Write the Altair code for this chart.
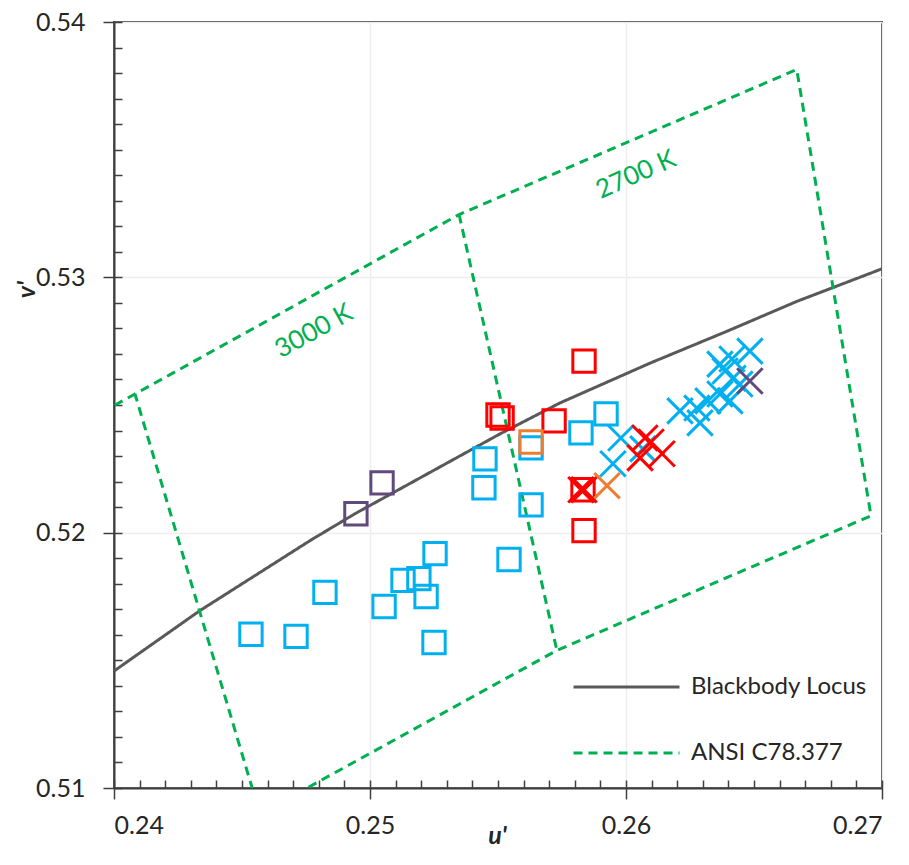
import altair as alt
import pandas as pd

# ---------------- axis ticks ----------------
x_major = [0.24, 0.25, 0.26, 0.27]
y_major = [0.51, 0.52, 0.53, 0.54]
x_minor = [round(0.24 + i * 0.001, 3) for i in range(31)]
y_minor = [round(0.51 + i * 0.001, 3) for i in range(31)]

# ---------------- blackbody locus ----------------
locus_u = [0.2400, 0.24336, 0.24766, 0.24941, 0.25508, 0.25742, 0.26094, 0.26395, 0.26668, 0.27004]
locus_v = [0.51458, 0.51695, 0.51969, 0.52074, 0.52387, 0.52508, 0.52664, 0.52789, 0.52906, 0.53035]

# ---------------- ANSI C78.377 quadrangles ----------------
ansi_outline_u = [0.2390, 0.24082, 0.25348, 0.26667, 0.26957, 0.25730, 0.24570, 0.24082]
ansi_outline_v = [0.52442, 0.52543, 0.53246, 0.53814, 0.52066, 0.51539, 0.50898, 0.52543]
ansi_divider_u = [0.25348, 0.25730]
ansi_divider_v = [0.53246, 0.51539]

label_text = ["3000 K", "2700 K"]
label_u = [0.24781, 0.26039]
label_v = [0.52789, 0.53402]

# ---------------- measured points ----------------
blue_sq_u = [0.24535, 0.24711, 0.24824, 0.25055, 0.25129, 0.25191, 0.25219, 0.25254,
             0.25250, 0.25543, 0.25449, 0.25445, 0.25629, 0.25629, 0.25824, 0.25922]
blue_sq_v = [0.51602, 0.51594, 0.51766, 0.51711, 0.51813, 0.51820, 0.51750, 0.51918,
             0.51570, 0.51895, 0.52289, 0.52176, 0.52332, 0.52109, 0.52391, 0.52465]

red_sq_u = [0.25836, 0.25500, 0.25516, 0.25719, 0.25832, 0.25836]
red_sq_v = [0.52672, 0.52461, 0.52449, 0.52438, 0.52168, 0.52008]

orange_sq_u = [0.25629]
orange_sq_v = [0.52355]

purple_sq_u = [0.25047, 0.24945]
purple_sq_v = [0.52195, 0.52074]

blue_x_u = [0.25980, 0.25949, 0.26066, 0.26211, 0.26277, 0.26289, 0.26320, 0.26367,
            0.26406, 0.26367, 0.26414, 0.26484, 0.26418, 0.26387, 0.26445]
blue_x_v = [0.52371, 0.52270, 0.52328, 0.52477, 0.52488, 0.52430, 0.52516, 0.52543,
            0.52516, 0.52660, 0.52680, 0.52711, 0.52605, 0.52633, 0.52582]

red_x_u = [0.25824, 0.25836, 0.26074, 0.26098, 0.26055, 0.26141]
red_x_v = [0.52168, 0.52168, 0.52371, 0.52355, 0.52293, 0.52309]

orange_x_u = [0.25926]
orange_x_v = [0.52184]

purple_x_u = [0.26484]
purple_x_v = [0.52594]

# ---------------- styling ----------------
FONT = "Lato"
TXT = "#262626"
GREEN = "#00B050"
GRAY = "#595959"
BLUE = "#00B0F0"
RED = "#FF0000"
ORANGE = "#ED7D31"
PURPLE = "#604A7B"
XPATH = "M-1,-1L1,1M-1,1L1,-1"

xscale = alt.Scale(domain=[0.24, 0.27], zero=False, nice=False)
yscale = alt.Scale(domain=[0.51, 0.54], zero=False, nice=False)

series_domain = ["Blackbody Locus", "ANSI C78.377"]
legend = alt.Legend(
    title=None, orient="none", legendX=458, legendY=645, direction="vertical",
    symbolType="stroke", symbolSize=11236, symbolStrokeWidth=3,
    labelFont=FONT, labelFontSize=24, labelColor=TXT, labelOffset=10,
    clipHeight=40, rowPadding=26, padding=0, labelLimit=400,
)
color_enc = alt.Color("series:N", scale=alt.Scale(domain=series_domain, range=[GRAY, GREEN]), legend=legend)
dash_enc = alt.StrokeDash("series:N", scale=alt.Scale(domain=series_domain, range=[[1, 0], [9, 6]]), legend=legend)

main_x_axis = alt.Axis(
    orient="bottom", values=x_major, format=".2f", tickSize=11, tickWidth=1.5, tickColor="#3F3F3F",
    domainColor="#3F3F3F", domainWidth=2, labelFont=FONT, labelFontSize=25, labelColor=TXT,
    labelPadding=14, grid=True, gridColor="#EDEDED", gridWidth=1.5,
    title="u'", titleFont=FONT, titleFontSize=25, titleFontWeight="bold", titleFontStyle="italic",
    titleColor=TXT, titleX=383, titleY=47, titleBaseline="middle", titleAlign="center",
)
main_y_axis = alt.Axis(
    orient="left", values=y_major, format=".2f", tickSize=11, tickWidth=1.5, tickColor="#3F3F3F",
    domainColor="#3F3F3F", domainWidth=2, labelFont=FONT, labelFontSize=25, labelColor=TXT,
    labelPadding=18, grid=True, gridColor="#EDEDED", gridWidth=1.5,
    title="v'", titleFont=FONT, titleFontSize=25, titleFontWeight="bold", titleFontStyle="italic",
    titleColor=TXT, titleX=-88, titleY=267, titleAngle=270, titleBaseline="middle", titleAlign="center",
)
minor_x_axis = alt.Axis(orient="bottom", values=x_minor, offset=-8, tickSize=8, tickWidth=1.5,
                        tickColor="#3F3F3F", domain=False, labels=False, grid=False, title=None)
minor_y_axis = alt.Axis(orient="left", values=y_minor, offset=-8, tickSize=8, tickWidth=1.5,
                        tickColor="#3F3F3F", domain=False, labels=False, grid=False, title=None)

# ---------------- data frames ----------------
locus_df = pd.DataFrame({"u": locus_u, "v": locus_v, "i": range(len(locus_u)), "series": "Blackbody Locus"})
ansi_df = pd.concat([
    pd.DataFrame({"u": ansi_outline_u, "v": ansi_outline_v, "i": range(len(ansi_outline_u)), "part": "outline"}),
    pd.DataFrame({"u": ansi_divider_u, "v": ansi_divider_v, "i": range(len(ansi_divider_u)), "part": "divider"}),
])
ansi_df["series"] = "ANSI C78.377"


def pts(u, v):
    return pd.DataFrame({"u": u, "v": v})


locus = alt.Chart(locus_df).mark_line(clip=True, strokeWidth=3).encode(
    x=alt.X("u:Q", scale=xscale, axis=main_x_axis),
    y=alt.Y("v:Q", scale=yscale, axis=main_y_axis),
    order="i:Q", color=color_enc, strokeDash=dash_enc,
)
ansi = alt.Chart(ansi_df).mark_line(clip=True, strokeWidth=3).encode(
    x=alt.X("u:Q", scale=xscale, axis=minor_x_axis),
    y=alt.Y("v:Q", scale=yscale, axis=minor_y_axis),
    order="i:Q", detail="part:N", color=color_enc, strokeDash=dash_enc,
)


def label_layer(k, ang):
    d = pd.DataFrame({"u": [label_u[k]], "v": [label_v[k]], "t": [label_text[k]]})
    return alt.Chart(d).mark_text(angle=ang, font=FONT, fontSize=26, color=GREEN).encode(
        x=alt.X("u:Q", scale=xscale, axis=None), y=alt.Y("v:Q", scale=yscale, axis=None), text="t:N")


def sq_layer(u, v, col):
    return alt.Chart(pts(u, v)).mark_point(shape="square", filled=False, strokeWidth=3, size=500,
                                           color=col, opacity=1).encode(
        x=alt.X("u:Q", scale=xscale, axis=None), y=alt.Y("v:Q", scale=yscale, axis=None))


def x_layer(u, v, col):
    return alt.Chart(pts(u, v)).mark_point(shape=XPATH, filled=False, strokeWidth=3, size=650,
                                           color=col, opacity=1).encode(
        x=alt.X("u:Q", scale=xscale, axis=None), y=alt.Y("v:Q", scale=yscale, axis=None))


chart = alt.layer(
    locus, ansi,
    label_layer(0, 331), label_layer(1, 336),
    sq_layer(blue_sq_u, blue_sq_v, BLUE),
    sq_layer(purple_sq_u, purple_sq_v, PURPLE),
    sq_layer(red_sq_u, red_sq_v, RED),
    sq_layer(orange_sq_u, orange_sq_v, ORANGE),
    x_layer(blue_x_u, blue_x_v, BLUE),
    x_layer(red_x_u, red_x_v, RED),
    x_layer(orange_x_u, orange_x_v, ORANGE),
    x_layer(purple_x_u, purple_x_v, PURPLE),
).resolve_axis(x="independent", y="independent").properties(
    width=768, height=766,
    padding={"left": 106, "top": 14, "right": 18, "bottom": 59},
    autosize=alt.AutoSizeParams(type="none"),
).configure_view(stroke="#3F3F3F", strokeWidth=2)

chart.save("out.html", embed_options={"renderer": "svg", "actions": False})
